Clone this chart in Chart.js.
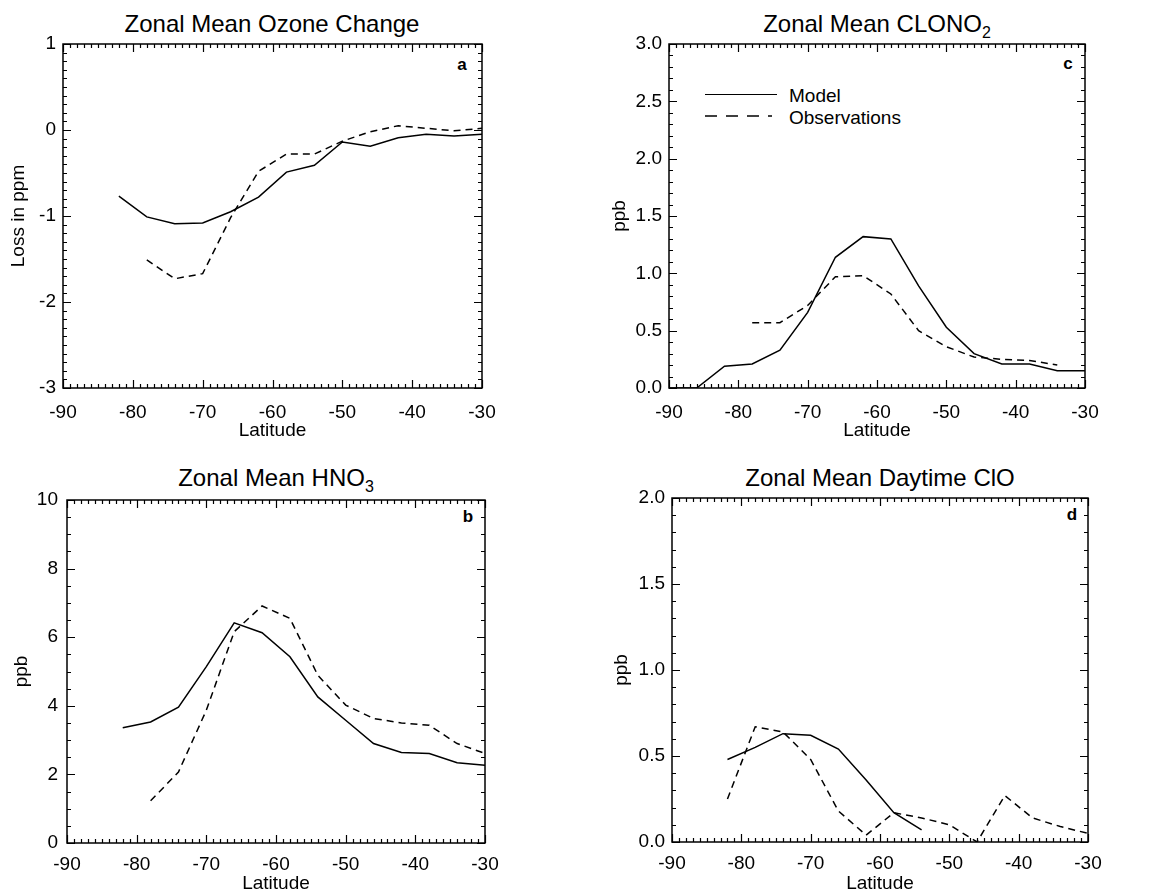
<!DOCTYPE html>
<html><head><meta charset="utf-8">
<script src="https://cdn.jsdelivr.net/npm/chart.js@4.4.1/dist/chart.umd.min.js"></script>
<style>
html,body{margin:0;padding:0;background:#fff;}
body{width:1165px;height:894px;position:relative;overflow:hidden;font-family:"Liberation Sans",Arial,Helvetica,sans-serif;color:#000;}
canvas{position:absolute;}
.title{position:absolute;font-size:24px;white-space:nowrap;transform:translate(-50%,-50%);line-height:1;}
.title sub{font-size:16px;vertical-align:-6px;line-height:0;}
.letter{position:absolute;font-weight:bold;font-size:17px;line-height:1;transform:translate(-50%,-50%);}
.leg{position:absolute;font-size:19px;line-height:1;transform:translateY(-50%);white-space:nowrap;}
.legline{position:absolute;height:0;}
</style>
</head><body>
<div class="title" style="left:272px;top:24px;">Zonal Mean Ozone Change</div>
<div class="title" style="left:877px;top:24px;">Zonal Mean CLONO<sub>2</sub></div>
<div class="title" style="left:276px;top:478px;">Zonal Mean HNO<sub>3</sub></div>
<div class="title" style="left:880px;top:478px;">Zonal Mean Daytime ClO</div>
<div class="letter" style="left:462px;top:64px;">a</div>
<div class="letter" style="left:1068px;top:63px;">c</div>
<div class="letter" style="left:468px;top:516px;">b</div>
<div class="letter" style="left:1072px;top:514px;">d</div>
<div class="legline" style="left:705px;top:94px;width:72px;border-top:1.4px solid #000;"></div>
<div class="leg" style="left:789px;top:95px;">Model</div>
<svg style="position:absolute;left:700px;top:110px;" width="80" height="12"><line x1="5" y1="6" x2="72" y2="6" stroke="#000" stroke-width="1.4" stroke-dasharray="12,9"/></svg>
<div class="leg" style="left:789px;top:117px;">Observations</div>

<canvas id="ca" width="575" height="410" style="left:0px;top:34px;"></canvas>
<canvas id="cc" width="585" height="410" style="left:580px;top:34px;"></canvas>
<canvas id="cb" width="575" height="404" style="left:0px;top:490px;"></canvas>
<canvas id="cd" width="585" height="404" style="left:580px;top:490px;"></canvas>

<script>
// ---------------- DATA ----------------
const latitudeTicks = [-90, -80, -70, -60, -50, -40, -30];

// Panel a: Zonal mean ozone change (ppm)
const ozoneModelLat = [-82, -78, -74, -70, -66, -62, -58, -54, -50, -46, -42, -38, -34, -30];
const ozoneModel    = [-0.77, -1.01, -1.09, -1.08, -0.95, -0.78, -0.49, -0.41, -0.14, -0.19, -0.09, -0.05, -0.07, -0.05];
const ozoneObsLat   = [-78, -74, -70, -66, -62, -58, -54, -50, -46, -42, -38, -34, -30];
const ozoneObs      = [-1.51, -1.73, -1.67, -1.02, -0.48, -0.28, -0.28, -0.13, -0.02, 0.05, 0.02, -0.01, 0.02];
const ozoneTicks    = [-3, -2, -1, 0, 1];

// Panel c: Zonal mean ClONO2 (ppb)
const clonoModelLat = [-90, -86, -82, -78, -74, -70, -66, -62, -58, -54, -50, -46, -42, -38, -34, -30];
const clonoModel    = [0, 0, 0.19, 0.21, 0.33, 0.66, 1.14, 1.32, 1.30, 0.89, 0.53, 0.30, 0.21, 0.21, 0.15, 0.15];
const clonoObsLat   = [-78, -74, -70, -66, -62, -58, -54, -50, -46, -42, -38, -34];
const clonoObs      = [0.57, 0.57, 0.72, 0.97, 0.98, 0.82, 0.50, 0.36, 0.27, 0.25, 0.24, 0.20];
const clonoTicks    = [0, 0.5, 1.0, 1.5, 2.0, 2.5, 3.0];

// Panel b: Zonal mean HNO3 (ppb)
const hno3ModelLat  = [-82, -78, -74, -70, -66, -62, -58, -54, -50, -46, -42, -38, -34, -30];
const hno3Model     = [3.36, 3.53, 3.96, 5.14, 6.42, 6.13, 5.43, 4.26, 3.58, 2.90, 2.64, 2.61, 2.34, 2.27];
const hno3ObsLat    = [-78, -74, -70, -66, -62, -58, -54, -50, -46, -42, -38, -34, -30];
const hno3Obs       = [1.23, 2.07, 3.87, 6.16, 6.91, 6.55, 4.89, 4.02, 3.63, 3.50, 3.43, 2.90, 2.61];
const hno3Ticks     = [0, 2, 4, 6, 8, 10];

// Panel d: Zonal mean daytime ClO (ppb)
const cloModelLat   = [-82, -78, -74, -70, -66, -62, -58, -54];
const cloModel      = [0.48, 0.55, 0.63, 0.62, 0.54, 0.36, 0.17, 0.07];
const cloObsLat     = [-82, -78, -74, -70, -66, -62, -58, -54, -50, -46, -42, -38, -34, -30];
const cloObs        = [0.25, 0.67, 0.64, 0.48, 0.18, 0.04, 0.17, 0.14, 0.10, 0.00, 0.27, 0.14, 0.09, 0.05];
const cloTicks      = [0, 0.5, 1.0, 1.5, 2.0];

// ---------------- DRAWING ----------------
const FONT = '"Liberation Sans", Arial, Helvetica, sans-serif';
const TICK_SIZE = 19;
const AXIS_TITLE_SIZE = 19;

const innerTicks = {
  id: 'innerTicks',
  afterDraw(chart, args, opts) {
    const {ctx, chartArea} = chart;
    const {left, right, top, bottom} = chartArea;
    const xs = chart.scales.x, ys = chart.scales.y;
    ctx.save();
    ctx.strokeStyle = '#000';
    ctx.lineWidth = 1.2;
    const nx = Math.round((xs.max - xs.min) / opts.xMinor);
    for (let i = 0; i <= nx; i++) {
      const v = xs.min + i * opts.xMinor;
      const major = i % opts.xPer === 0;
      const len = major ? 8 : 4;
      const px = Math.round(xs.getPixelForValue(v)) + 0.5;
      ctx.beginPath();
      ctx.moveTo(px, bottom); ctx.lineTo(px, bottom - len);
      ctx.moveTo(px, top); ctx.lineTo(px, top + len);
      ctx.stroke();
    }
    const ny = Math.round((ys.max - ys.min) / opts.yMinor);
    for (let i = 0; i <= ny; i++) {
      const v = ys.min + i * opts.yMinor;
      const major = i % opts.yPer === 0;
      const len = major ? 8 : 4;
      const py = Math.round(ys.getPixelForValue(v)) + 0.5;
      ctx.beginPath();
      ctx.moveTo(left, py); ctx.lineTo(left + len, py);
      ctx.moveTo(right, py); ctx.lineTo(right - len, py);
      ctx.stroke();
    }
    ctx.lineWidth = 1.5;
    ctx.strokeRect(left, top, right - left, bottom - top);
    ctx.restore();
  }
};

function toPoints(lats, vals) {
  return lats.map((x, i) => ({x: x, y: vals[i]}));
}

function makePanel(p) {
  const c = p.canvas, pl = p.plot;
  const cw = c.w, ch = c.h;
  const yWidth = pl.l - c.x;
  const xHeight = (c.y + ch) - pl.b;
  const xTitlePadBottom = Math.max(0, (c.y + ch) - p.xTitleY - AXIS_TITLE_SIZE / 2);
  const yTitlePadTop = Math.max(0, p.yTitleX - c.x - AXIS_TITLE_SIZE / 2);
  new Chart(document.getElementById(p.id), {
    type: 'line',
    data: {
      datasets: [
        {data: toPoints(p.modelLat, p.model), borderColor: '#000', borderWidth: 1.5, pointRadius: 0, fill: false, tension: 0},
        {data: toPoints(p.obsLat, p.obs), borderColor: '#000', borderWidth: 1.5, borderDash: [7, 5], pointRadius: 0, fill: false, tension: 0}
      ]
    },
    options: {
      responsive: false,
      animation: false,
      devicePixelRatio: 1,
      events: [],
      layout: {padding: {top: pl.t - c.y, right: (c.x + cw) - pl.r, left: 0, bottom: 0}},
      plugins: {
        legend: {display: false},
        tooltip: {enabled: false},
        innerTicks: {xMinor: 1, xPer: 10, yMinor: p.yMinor, yPer: p.yPer}
      },
      scales: {
        x: {
          type: 'linear', min: -90, max: -30,
          afterBuildTicks: s => { s.ticks = latitudeTicks.map(v => ({value: v})); },
          afterFit: s => { s.height = xHeight; s.paddingLeft = 0; s.paddingRight = 0; s.paddingTop = 0; s.paddingBottom = 0; },
          grid: {display: false, drawTicks: false},
          border: {display: false},
          ticks: {color: '#000', font: {family: FONT, size: TICK_SIZE}, padding: p.xLabelPad, maxRotation: 0, autoSkip: false,
                  callback: v => String(v)},
          title: {display: true, text: 'Latitude', color: '#000', font: {family: FONT, size: AXIS_TITLE_SIZE, lineHeight: 1},
                  padding: {top: 0, bottom: xTitlePadBottom}}
        },
        y: {
          type: 'linear', min: p.yTicks[0], max: p.yTicks[p.yTicks.length - 1],
          afterBuildTicks: s => { s.ticks = p.yTicks.map(v => ({value: v})); },
          afterFit: s => { s.width = yWidth; s.paddingLeft = 0; s.paddingRight = 0; s.paddingTop = 0; s.paddingBottom = 0; },
          grid: {display: false, drawTicks: false},
          border: {display: false},
          ticks: {color: '#000', font: {family: FONT, size: TICK_SIZE}, padding: p.yLabelPad, autoSkip: false,
                  callback: v => v.toFixed(p.yDecimals)},
          title: {display: true, text: p.yTitle, color: '#000', font: {family: FONT, size: AXIS_TITLE_SIZE, lineHeight: 1},
                  padding: {top: yTitlePadTop, bottom: 0}}
        }
      }
    },
    plugins: [innerTicks]
  });
}

makePanel({id: 'ca', canvas: {x: 0, y: 34, w: 575, h: 410}, plot: {l: 63, t: 44, r: 482, b: 388},
  modelLat: ozoneModelLat, model: ozoneModel, obsLat: ozoneObsLat, obs: ozoneObs,
  yTicks: ozoneTicks, yMinor: 0.1, yPer: 10, yDecimals: 0, yTitle: 'Loss in ppm',
  yTitleX: 19, xTitleY: 431, xLabelPad: 13, yLabelPad: 7});
makePanel({id: 'cc', canvas: {x: 580, y: 34, w: 585, h: 410}, plot: {l: 669, t: 44, r: 1085, b: 388},
  modelLat: clonoModelLat, model: clonoModel, obsLat: clonoObsLat, obs: clonoObs,
  yTicks: clonoTicks, yMinor: 0.1, yPer: 5, yDecimals: 1, yTitle: 'ppb',
  yTitleX: 620, xTitleY: 431, xLabelPad: 13, yLabelPad: 7});
makePanel({id: 'cb', canvas: {x: 0, y: 490, w: 575, h: 404}, plot: {l: 67, t: 500, r: 485, b: 843},
  modelLat: hno3ModelLat, model: hno3Model, obsLat: hno3ObsLat, obs: hno3Obs,
  yTicks: hno3Ticks, yMinor: 0.5, yPer: 4, yDecimals: 0, yTitle: 'ppb',
  yTitleX: 22, xTitleY: 884, xLabelPad: 10, yLabelPad: 9});
makePanel({id: 'cd', canvas: {x: 580, y: 490, w: 585, h: 404}, plot: {l: 672, t: 498, r: 1088, b: 842},
  modelLat: cloModelLat, model: cloModel, obsLat: cloObsLat, obs: cloObs,
  yTicks: cloTicks, yMinor: 0.1, yPer: 5, yDecimals: 1, yTitle: 'ppb',
  yTitleX: 622, xTitleY: 884, xLabelPad: 10, yLabelPad: 7});
</script>
</body></html>
